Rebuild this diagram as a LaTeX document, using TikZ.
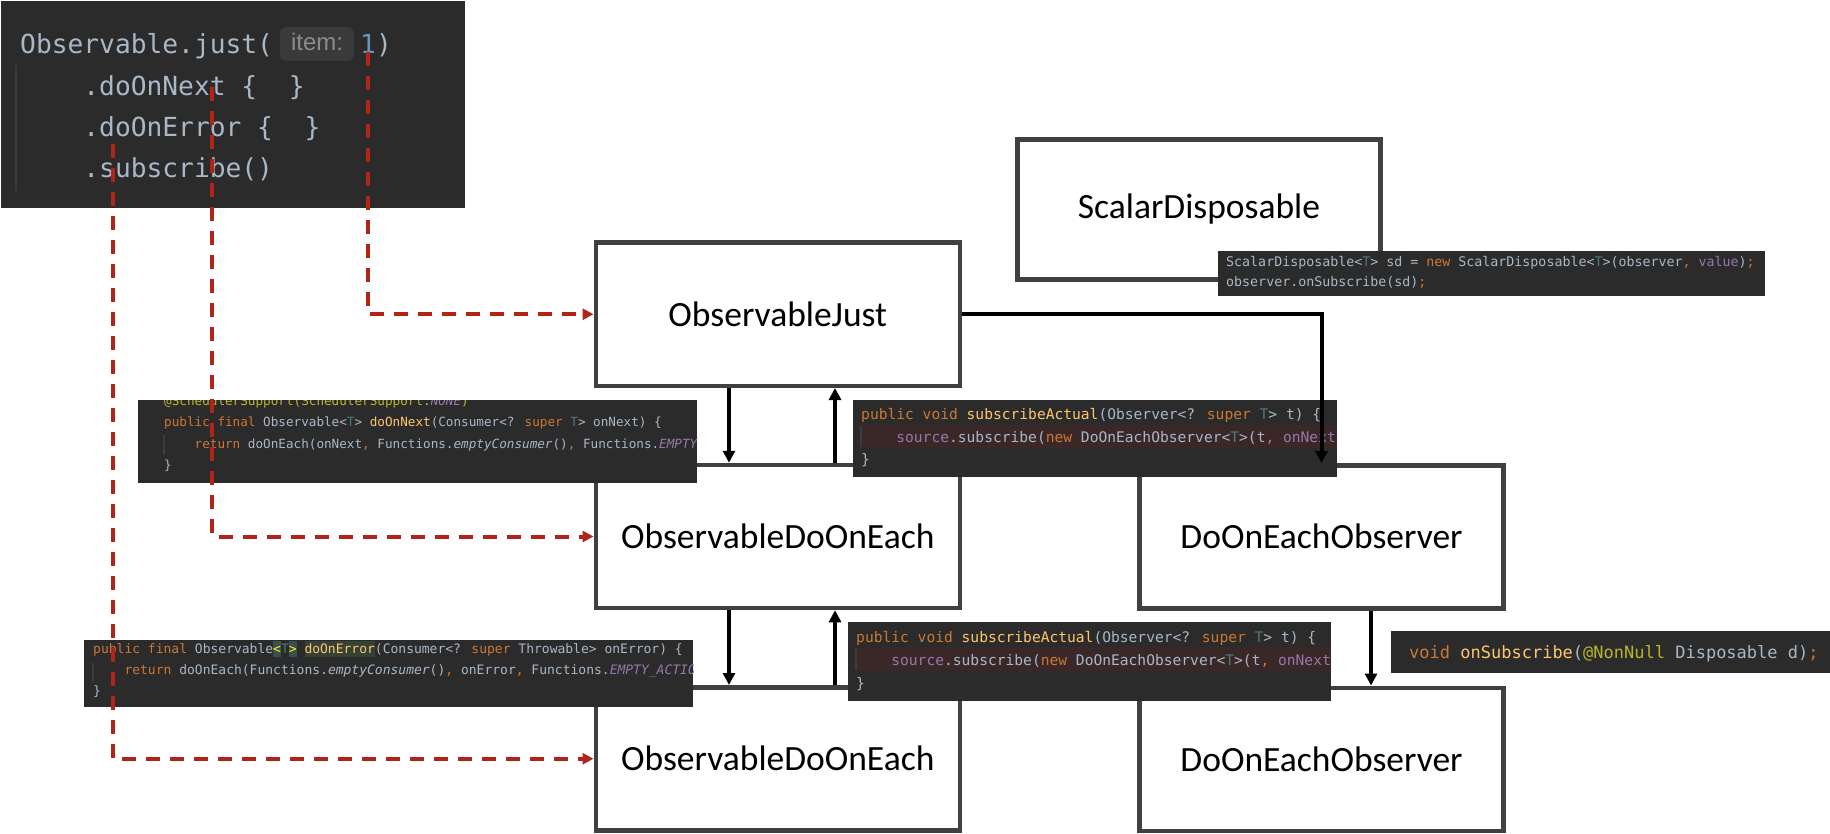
\documentclass[tikz,border=0pt]{standalone}
\usepackage{fontspec}
\setmainfont{Carlito}
\newfontfamily\mono{DejaVu Sans Mono}
\newfontfamily\hintfont{Liberation Sans}
\usetikzlibrary{arrows.meta}
\definecolor{boxgray}{HTML}{404040}
\definecolor{codebg}{HTML}{2B2B2B}
\definecolor{tx}{HTML}{A9B7C6}
\definecolor{kw}{HTML}{CC7832}
\definecolor{fn}{HTML}{FFC66D}
\definecolor{tp}{HTML}{507874}
\definecolor{pu}{HTML}{9876AA}
\definecolor{an}{HTML}{BBB529}
\definecolor{nu}{HTML}{6897BB}
\definecolor{redd}{HTML}{B22418}
\definecolor{hintbg}{HTML}{3A3A3A}
\definecolor{hinttx}{HTML}{8C8C8C}
\definecolor{guide}{HTML}{3C3C3C}
\definecolor{band}{HTML}{3A2828}
\definecolor{brace}{HTML}{3B514D}
\definecolor{ident}{HTML}{344134}
\definecolor{bracetx}{HTML}{FFEF28}
\newcommand\ckw[1]{\textcolor{kw}{#1}}
\newcommand\cfn[1]{\textcolor{fn}{#1}}
\newcommand\ctp[1]{\textcolor{tp}{#1}}
\newcommand\cpu[1]{\textcolor{pu}{#1}}
\newcommand\can[1]{\textcolor{an}{#1}}
\newcommand\cnu[1]{\textcolor{nu}{#1}}
\newcommand\ind[1]{\phantom{#1}}
\newcommand\hlb[2]{{\setlength\fboxsep{0pt}\colorbox{#1}{\rule[-0.28em]{0pt}{1.18em}#2}}}
\tikzset{
  box/.style={draw=boxgray, line width=4.5pt, fill=white, minimum width=364pt,
    minimum height=143pt, inner sep=0pt, text=black,
    font=\fontsize{35.5}{40}\selectfont},
  codeline/.style={anchor=base west, inner sep=0pt, text=tx},
  arr/.style={line width=4pt, draw=black, -{Triangle[length=12pt,width=12pt]}},
  redarr/.style={line width=4pt, draw=redd, dash pattern=on 14pt off 10pt,
    -{Triangle[length=11pt,width=11pt]}},
  guideline/.style={draw=guide, line width=1.5pt},
}
\begin{document}
\begin{tikzpicture}[x=1pt,y=-1pt]
\useasboundingbox (0,0) rectangle (1830,834);
\fill[white] (0,0) rectangle (1830,834);

% ---- boxes ----
\node[box, minimum height=140pt, minimum width=363pt] (sd) at (1199,209.5) {ScalarDisposable};
\node[box] (oj) at (777.75,314.25) {ObservableJust};
\node[box] (od1) at (777.75,536.5) {ObservableDoOnEach};
\node[box] (od2) at (777.75,758.75) {ObservableDoOnEach};
\node[box] (ob1) at (1321.5,536.75) {DoOnEachObserver};
\node[box] (ob2) at (1321.5,759.25) {DoOnEachObserver};

% ---- top code block ----
\fill[codebg] (1,1) rectangle (465,208);
\draw[guideline] (16,65) -- (16,191);
\begin{scope}[every node/.style={codeline, font=\mono\fontsize{26.25}{30}\selectfont}]
\node (t1) at (20,53.3) {Observable.just(};
\node (t1b) at (360,53.3) {\cnu{1})};
\node (t2) at (20,95.5) {\ind{xxxx}.doOnNext \{\ind{xx}\}};
\node (t3) at (20,137) {\ind{xxxx}.doOnError \{\ind{xx}\}};
\node (t4) at (20,177.5) {\ind{xxxx}.subscribe()};
\end{scope}
\fill[hintbg, rounded corners=6pt] (280,27) rectangle (354,61);
\node[anchor=base, inner sep=0pt, text=hinttx, font=\hintfont\fontsize{24}{28}\selectfont] (hint) at (317,51) {item:};

% ---- code: doOnNext ----
\fill[codebg] (138,400) rectangle (697,483);
\begin{scope}
\clip (138,400) rectangle (697,483);
\draw[guideline] (164,435) -- (164,455);
\begin{scope}[every node/.style={codeline, font=\mono\fontsize{12.65}{15}\selectfont}]
\node (a1) at (164,405) {\can{@SchedulerSupport(SchedulerSupport.}\cpu{\itshape NONE}\can{)}};
\node (a2) at (164,426.5) {\ckw{public final} Observable<\ctp{T}> \cfn{doOnNext}(Consumer<? \ckw{super} \ctp{T}> onNext) \{};
\node (a3) at (164,448.5) {\ind{xxxx}\ckw{return} doOnEach(onNext\ckw{,} Functions.\textit{emptyConsumer}()\ckw{,} Functions.\cpu{\itshape EMPTY}};
\node (a4) at (164,469.5) {\}};
\end{scope}
\end{scope}

% ---- code: doOnError ----
\fill[codebg] (84,640) rectangle (693,707);
\begin{scope}
\clip (84,640) rectangle (693,707);
\draw[guideline] (93,663) -- (93,682);
\begin{scope}[every node/.style={codeline, font=\mono\fontsize{13}{15}\selectfont}]
\node (b1) at (93,653) {\ckw{public final} Observable\hlb{brace}{\textcolor{bracetx}{<}}\ctp{T}\hlb{brace}{\textcolor{bracetx}{>}} \hlb{ident}{\cfn{doOnError}}(Consumer<? \ckw{super} Throwable> onError) \{};
\node (b2) at (93,674.5) {\ind{xxxx}\ckw{return} doOnEach(Functions.\textit{emptyConsumer}()\ckw{,} onError\ckw{,} Functions.\cpu{\itshape EMPTY\_ACTION}};
\node (b3) at (93,695.5) {\}};
\end{scope}
\end{scope}

% ---- code: subscribeActual 1 ----
\fill[codebg] (853,400) rectangle (1337,477);
\begin{scope}
\clip (853,400) rectangle (1337,477);
\fill[band] (859,425) rectangle (1337,448);
\draw[guideline] (861,426) -- (861,447);
\begin{scope}[every node/.style={codeline, font=\mono\fontsize{14.6}{17}\selectfont}]
\node (c1) at (861,419) {\ckw{public void} \cfn{subscribeActual}(Observer<? \ckw{super} \ctp{T}> t) \{};
\node (c2) at (861,442) {\ind{xxxx}\cpu{source}.subscribe(\ckw{new} DoOnEachObserver<\ctp{T}>(t\ckw{,} \cpu{onNext}};
\node (c3) at (861,464.5) {\}};
\end{scope}
\end{scope}

% ---- code: subscribeActual 2 ----
\fill[codebg] (848,622) rectangle (1331,701);
\begin{scope}
\clip (848,622) rectangle (1331,701);
\fill[band] (854,647) rectangle (1331,671);
\draw[guideline] (856,648) -- (856,670);
\begin{scope}[every node/.style={codeline, font=\mono\fontsize{14.6}{17}\selectfont}]
\node (d1) at (856,642) {\ckw{public void} \cfn{subscribeActual}(Observer<? \ckw{super} \ctp{T}> t) \{};
\node (d2) at (856,665) {\ind{xxxx}\cpu{source}.subscribe(\ckw{new} DoOnEachObserver<\ctp{T}>(t\ckw{,} \cpu{onNext}};
\node (d3) at (856,688) {\}};
\end{scope}
\end{scope}

% ---- code: ScalarDisposable ----
\fill[codebg] (1218,251) rectangle (1765,296);
\begin{scope}[every node/.style={codeline, font=\mono\fontsize{13.3}{16}\selectfont}]
\node (e1) at (1226,266.5) {ScalarDisposable<\ctp{T}> sd = \ckw{new} ScalarDisposable<\ctp{T}>(observer\ckw{,} \cpu{value})\ckw{;}};
\node (e2) at (1226,286.5) {observer.onSubscribe(sd)\ckw{;}};
\end{scope}

% ---- code: onSubscribe ----
\fill[codebg] (1391,631) rectangle (1830,673);
\node[codeline, font=\mono\fontsize{17}{20}\selectfont] (f1) at (1409,658) {\ckw{void} \cfn{onSubscribe}(\can{@NonNull} Disposable d)\ckw{;}};

% ---- black arrows ----
\draw[arr] ([xshift=-48.75pt]oj.south) -- ([xshift=-48.75pt]od1.north);
\draw[arr] ([xshift=57.25pt]od1.north) -- ([xshift=57.25pt]oj.south);
\draw[arr] ([xshift=-48.75pt]od1.south) -- ([xshift=-48.75pt]od2.north);
\draw[arr] ([xshift=57.25pt]od2.north) -- ([xshift=57.25pt]od1.south);
\draw[arr] (oj.east) -| (ob1.north);
\draw[arr] ([xshift=49.5pt]ob1.south) -- ([xshift=49.5pt]ob2.north);

% ---- red dashed arrows ----
\coordinate (r1) at (368,52);
\coordinate (r2) at (212,87);
\coordinate (r3) at (113,144);
\draw[redarr] (r1) |- (oj.west);
\draw[redarr] (r2) |- (od1.west);
\draw[redarr] (r3) |- (od2.west);
\end{tikzpicture}
\end{document}
